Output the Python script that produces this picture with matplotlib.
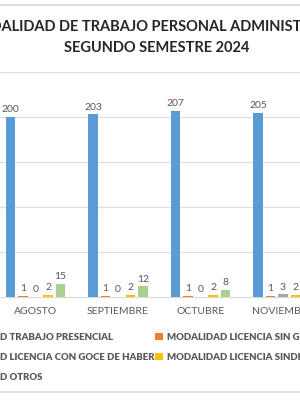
#!/usr/bin/env python3
"""modalidad de trabajo, personal administrativo, 2do semestre 2024 (vista recortada)"""
import matplotlib
matplotlib.use('Agg')
import matplotlib.pyplot as plt
from matplotlib.lines import Line2D
import numpy as np

meses = ['AGOSTO', 'SEPTIEMBRE', 'OCTUBRE', 'NOVIEMBRE']
presencial = [200, 203, 207, 205]
sin_goce = [1, 1, 1, 1]
con_goce = [0, 0, 0, 3]
sindical = [2, 2, 2, 2]
otros = [15, 12, 8, np.nan]  # noviembre queda fuera del recorte

series = [
	('MODALIDAD TRABAJO PRESENCIAL', presencial, '#5B9BD5'),
	('MODALIDAD LICENCIA SIN GOCE DE HABER', sin_goce, '#ED7D31'),
	('MODALIDAD LICENCIA CON GOCE DE HABER', con_goce, '#A5A5A5'),
	('MODALIDAD LICENCIA SINDICAL', sindical, '#FFC000'),
	('MODALIDAD OTROS', otros, '#A9D18E'),
]

plt.rcParams['font.family'] = ['Lato', 'DejaVu Sans']
txt_color = '#595959'

fig = plt.figure(figsize=(3, 4), dpi=100)
W, H = 300.0, 400.0

# plot area: y=0 at px 297, y=250 at px 72
ax = fig.add_axes([0, (H - 297) / H, 1, 225 / H])
x = np.arange(len(meses))
step = 0.1515
width = 0.121
bars = []
for i, (name, vals, col) in enumerate(series):
	b = ax.bar(x + (i - 2) * step, vals, width, color=col, label=name, zorder=3)
	bars.append(b)
	for xi, v in zip(x + (i - 2) * step, vals):
		if np.isnan(v):
			continue
		ax.text(xi, v + 3, f'{v:g}', ha='center', va='bottom', fontsize=7.5,
				color=txt_color, zorder=4)

ax.set_xlim((0 - 35.5) / 82.5, (W - 35.5) / 82.5)
ax.set_ylim(0, 250)
ax.set_yticks([50, 100, 150, 200, 250])
ax.yaxis.grid(True, color='#E0E0E0', linewidth=0.9, zorder=0)
ax.tick_params(axis='y', left=False, labelleft=False)
ax.set_xticks(x)
ax.set_xticklabels(meses, fontsize=7.5, color=txt_color)
ax.tick_params(axis='x', length=0, pad=7)
for s in ['top', 'left', 'right']:
	ax.spines[s].set_visible(False)
ax.spines['bottom'].set_color('#D9D9D9')
ax.set_facecolor('none')

# titulo (centrado fuera del recorte)
fig.text(160 / W, 1 - 27 / H, 'MODALIDAD DE TRABAJO PERSONAL ADMINISTRATIVO',
		 ha='center', va='center', fontsize=10.5, fontweight='bold', color='#262626')
fig.text(156.5 / W, 1 - 47.5 / H, 'SEGUNDO SEMESTRE 2024',
		 ha='center', va='center', fontsize=10.5, fontweight='bold', color='#262626')

# borde del grafico
fig.add_artist(Line2D([0, 1], [1 - 5 / H, 1 - 5 / H], color='#D9D9D9', lw=1.2))
fig.add_artist(Line2D([0, 1], [1 - 392 / H, 1 - 392 / H], color='#D9D9D9', lw=1.2))

# leyenda (relleno por columnas como Excel por filas)
order = [0, 2, 4, 1, 3]
leg = fig.legend([bars[k] for k in order], [series[k][0] for k in order],
				 ncol=2, loc='upper left', bbox_to_anchor=(-64 / W, 1 - 333 / H),
				 frameon=False, prop={'weight': 'heavy', 'size': 6.9},
				 handlelength=0.75, handleheight=0.75,
				 handletextpad=0.4, columnspacing=0.1, labelspacing=1.15,
				 borderpad=0, borderaxespad=0)
for t in leg.get_texts():
	t.set_color(txt_color)

fig.savefig('out.png', dpi=100)
